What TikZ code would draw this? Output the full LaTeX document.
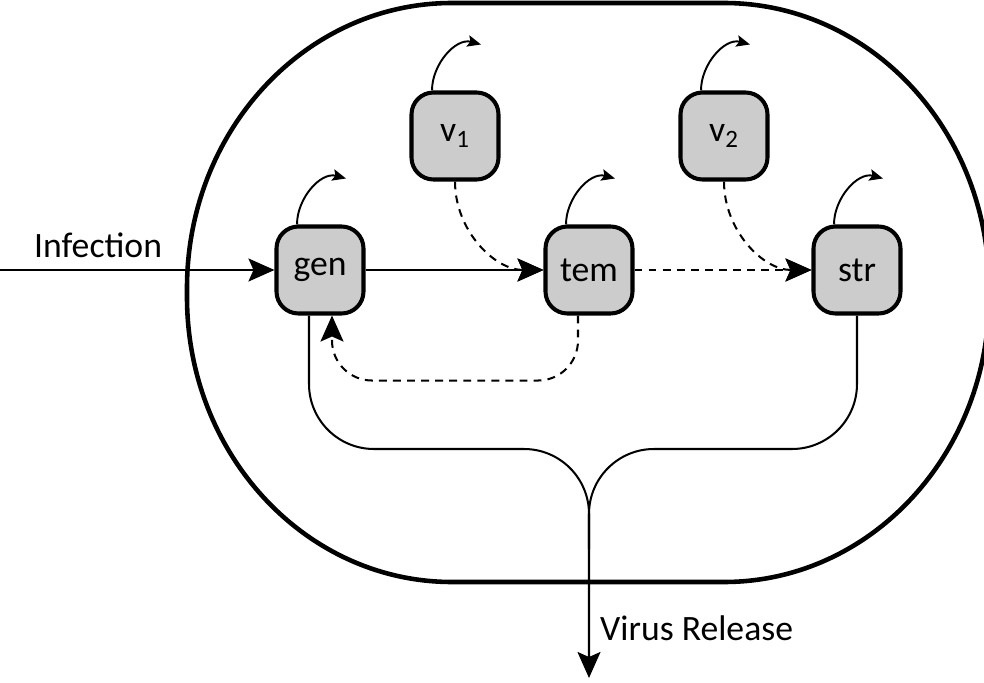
\documentclass[tikz,border=0pt]{standalone}
\usepackage{fontspec}
\setmainfont{Carlito}
\usetikzlibrary{arrows.meta}

\tikzset{
    gene/.style={draw, line width=2.3pt, fill=black!20, rounded corners=0.44cm, minimum size=1.74cm, inner sep=0pt},
    flow/.style={line width=1.15pt, -{Stealth[length=0.52cm, width=0.46cm, inset=0.1cm]}},
    dflow/.style={flow, dash pattern=on 4.5pt off 3.5pt},
    selfloop/.style={line width=1.1pt, -{Stealth[length=0.27cm, width=0.23cm, inset=0.05cm]}},
    cellwall/.style={line width=2.6pt}
}

\begin{document}
\begin{tikzpicture}[font=\fontsize{20.3pt}{24pt}\selectfont]
    \useasboundingbox (0,0) rectangle (19.68,13.64);
    % Cell
    \draw[cellwall] (9.04,13.58) -- (14.48,13.58)
        arc[start angle=90, end angle=0, x radius=5.3, y radius=5.7] -- (19.78,7.7)
        arc[start angle=0, end angle=-90, x radius=5.3, y radius=5.7] -- (9.04,2.0)
        arc[start angle=270, end angle=180, x radius=5.3, y radius=5.7] -- (3.74,7.88)
        arc[start angle=180, end angle=90, x radius=5.3, y radius=5.7] -- cycle;
    % Genes
    \node[gene] (gen) at (6.40,8.24) {gen};
    \node[gene] (tem) at (11.78,8.24) {tem};
    \node[gene] (str) at (17.14,8.24) {str};
    \node[gene] (v1) at (9.10,10.92) {v\textsubscript{1}};
    \node[gene] (v2) at (14.48,10.92) {v\textsubscript{2}};
    \foreach \g in {gen,tem,str,v1,v2}
        \draw[selfloop] ([xshift=-0.46cm]\g.north) to[out=90,in=165] ++(0.98,0.92);
    % Infection
    \coordinate (entry) at (0,8.24);
    \node[anchor=base west] (infection) at (0.56,8.5) {Infection};
    \draw[flow] (entry) -- (gen.west);
    \draw[flow] (gen.east) -- (tem.west);
    \draw[dflow] (tem.east) -- (str.west);
    \draw[dflow] (v1.south) to[out=-90,in=180] (tem.west);
    \draw[dflow] (v2.south) to[out=-90,in=180] (str.west);
    \draw[dflow, rounded corners=0.8cm] ([xshift=-0.22cm]tem.south) -- ++(0,-1.3) -| ([xshift=0.24cm]gen.south);
    % Release
    \coordinate (merge) at (11.78,4.66);
    \coordinate (release) at (11.78,0.08);
    \node[anchor=base west] (releaselabel) at (11.88,0.84) {Virus Release};
    \draw[flow, rounded corners=1.3cm] ([xshift=-0.22cm]gen.south) |- (merge) -- (release);
    \draw[line width=1.15pt, rounded corners=1.3cm] (str.south) |- (merge) -- ++(0,-2);
\end{tikzpicture}
\end{document}
